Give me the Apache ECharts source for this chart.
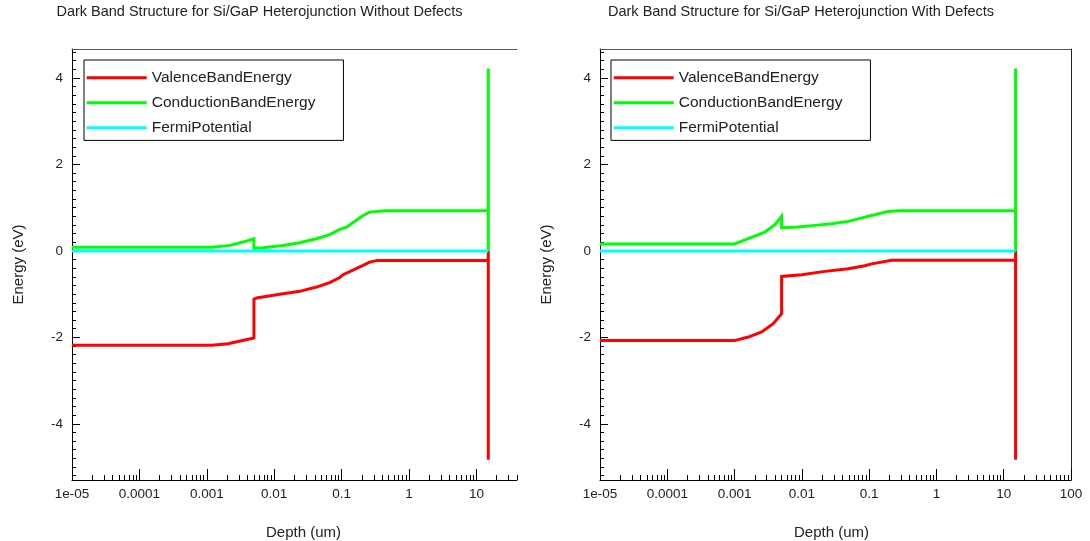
<!DOCTYPE html>
<html>
<head>
<meta charset="utf-8">
<script src="https://cdn.jsdelivr.net/npm/echarts@6/dist/echarts.min.js"></script>
<style>
  html, body { margin: 0; padding: 0; background: #ffffff; }
  #chart { width: 1090px; height: 541px; }
</style>
</head>
<body>
<div id="chart"></div>
<script>
// ---- labels ----
const seriesNames = ['ValenceBandEnergy', 'ConductionBandEnergy', 'FermiPotential'];
const titleNoDefects = 'Dark Band Structure for Si/GaP Heterojunction Without Defects';
const titleDefects = 'Dark Band Structure for Si/GaP Heterojunction With Defects';
const xAxisName = 'Depth (um)';
const yAxisName = 'Energy (eV)';

// ---- tick labels ----
const xMajorTicks = [1e-5, 1e-4, 1e-3, 0.01, 0.1, 1, 10, 100];
const xTickLabels = ['1e-05', '0.0001', '0.001', '0.01', '0.1', '1', '10', '100'];
const yMajorTicks = [-4, -2, 0, 2, 4];
const yTickLabels = ['-4', '-2', '0', '2', '4'];

// ---- Without defects: depth (um) / energy (eV) ----
const vbDepthA  = [1e-5, 0.0012, 0.00206, 0.00326, 0.005, 0.005, 0.0055, 0.0108, 0.0239, 0.0423, 0.0665, 0.094, 0.105, 0.208, 0.26, 0.34, 15, 15, 15];
const vbEnergyA = [-2.185, -2.185, -2.146, -2.077, -2.016, -1.12, -1.09, -1.013, -0.936, -0.837, -0.736, -0.615, -0.55, -0.335, -0.26, -0.22, -0.215, 0, -4.83];
const cbDepthA  = [1e-5, 0.0012, 0.0022, 0.00344, 0.005, 0.005, 0.0068, 0.0135, 0.0239, 0.0423, 0.0665, 0.094, 0.118, 0.208, 0.261, 0.44, 15, 15, 15];
const cbEnergyA = [0.085, 0.085, 0.127, 0.204, 0.28, 0.065, 0.074, 0.127, 0.19, 0.282, 0.375, 0.497, 0.55, 0.82, 0.897, 0.93, 0.93, 0, 4.22];
const efDepthA  = [1e-5, 15];
const efEnergyA = [0, 0];

// ---- With defects: depth (um) / energy (eV) ----
const vbDepthB  = [1e-5, 0.001, 0.0016, 0.00253, 0.00376, 0.005, 0.005, 0.00993, 0.022, 0.0489, 0.0865, 0.109, 0.216, 15, 15, 15];
const vbEnergyB = [-2.075, -2.075, -1.993, -1.877, -1.684, -1.453, -0.59, -0.551, -0.474, -0.412, -0.345, -0.3, -0.215, -0.215, 0, -4.83];
const cbDepthB  = [1e-5, 0.001, 0.0016, 0.00283, 0.00398, 0.005, 0.005, 0.00885, 0.0157, 0.0277, 0.0489, 0.0865, 0.109, 0.192, 0.279, 15, 15, 15];
const cbEnergyB = [0.16, 0.16, 0.282, 0.435, 0.605, 0.8, 0.536, 0.55, 0.59, 0.629, 0.682, 0.78, 0.82, 0.913, 0.93, 0.93, 0, 4.22];
const efDepthB  = [1e-5, 15];
const efEnergyB = [0, 0];

// ---- axis ranges ----
const xMin = 1e-5;
const xMaxA = 40;
const xMaxB = 100;
const yMin = -5.3;
const yMax = 4.67;

const FONT = '"Liberation Sans", Arial, Helvetica, sans-serif';
const INK = '#222222';
const colors = ['#ff0000', '#00ff00', '#00ffff'];

// minor ticks: 2..9 within each decade, and every 0.2 eV
const xMinorTicks = [];
for (let d = -5; d <= 1; d++) {
  for (let k = 2; k <= 9; k++) xMinorTicks.push(+(k * Math.pow(10, d)).toPrecision(6));
}
const yMinorTicks = [];
for (let i = -26; i <= 23; i++) yMinorTicks.push(+(i * 0.2).toFixed(1));

function zip(xs, ys) { return xs.map((x, i) => [x, ys[i]]); }

function xLabel(v) {
  for (let i = 0; i < xMajorTicks.length; i++) {
    if (Math.abs(Math.log10(v) - Math.log10(xMajorTicks[i])) < 1e-6) return xTickLabels[i];
  }
  return '';
}
function yLabel(v) {
  const i = yMajorTicks.indexOf(Math.round(v * 1000) / 1000);
  return i >= 0 ? yTickLabels[i] : '';
}

const gridBase = { top: 49, height: 431, containLabel: false, outerBoundsMode: 'none' };
const grids = [
  Object.assign({ left: 72, width: 445 }, gridBase),
  Object.assign({ left: 600, width: 471 }, gridBase)
];

const xAxes = [];
const yAxes = [];
const series = [];

function buildPanel(gi, xMax, rightBorder, nameShift, data) {
  const xBase = xAxes.length;
  const yBase = yAxes.length;
  // main bottom axis with decade ticks and labels
  xAxes.push({
    gridIndex: gi, type: 'log', logBase: 10, min: xMin, max: xMax, position: 'bottom',
    name: xAxisName, nameLocation: 'middle', nameGap: 45,
    nameTextStyle: { fontFamily: FONT, fontSize: 15, color: INK,
      padding: nameShift > 0 ? [0, 0, 0, 2 * nameShift] : [0, -2 * nameShift, 0, 0] },
    axisLine: { show: true, onZero: false, lineStyle: { color: '#000', width: 1 } },
    axisTick: { show: true, inside: true, length: 11, customValues: xMajorTicks, lineStyle: { color: '#000', width: 1 } },
    axisLabel: { show: true, customValues: xMajorTicks, formatter: xLabel, fontFamily: FONT, fontSize: 13.5, color: INK, margin: 7 },
    splitLine: { show: false }, minorTick: { show: false }
  });
  // minor decade ticks
  xAxes.push({
    gridIndex: gi, type: 'log', logBase: 10, min: xMin, max: xMax, position: 'bottom',
    axisLine: { show: false, onZero: false },
    axisTick: { show: true, inside: true, length: 5, customValues: xMinorTicks, lineStyle: { color: '#000', width: 1 } },
    axisLabel: { show: false },
    splitLine: { show: false }
  });
  // top frame line
  xAxes.push({
    gridIndex: gi, type: 'value', min: 0, max: 1, position: 'top',
    axisLine: { show: true, onZero: false, lineStyle: { color: '#555', width: 1 } },
    axisTick: { show: false }, axisLabel: { show: false }, splitLine: { show: false }
  });
  // main left axis
  yAxes.push({
    gridIndex: gi, type: 'value', min: yMin, max: yMax, position: 'left',
    name: yAxisName, nameLocation: 'middle', nameGap: 45.5, nameRotate: 90,
    nameTextStyle: { fontFamily: FONT, fontSize: 15, color: INK },
    axisLine: { show: true, onZero: false, lineStyle: { color: '#000', width: 1 } },
    axisTick: { show: true, inside: true, length: 8, customValues: yMajorTicks, lineStyle: { color: '#000', width: 1 } },
    axisLabel: { show: true, customValues: yMajorTicks, formatter: yLabel, fontFamily: FONT, fontSize: 13.5, color: INK, margin: 9 },
    splitLine: { show: false }
  });
  // minor energy ticks
  yAxes.push({
    gridIndex: gi, type: 'value', min: yMin, max: yMax, position: 'left',
    axisLine: { show: false, onZero: false },
    axisTick: { show: true, inside: true, length: 4, customValues: yMinorTicks, lineStyle: { color: '#000', width: 1 } },
    axisLabel: { show: false }, splitLine: { show: false }
  });
  if (rightBorder) {
    yAxes.push({
      gridIndex: gi, type: 'value', min: yMin, max: yMax, position: 'right',
      axisLine: { show: true, onZero: false, lineStyle: { color: '#222', width: 1 } },
      axisTick: { show: false }, axisLabel: { show: false }, splitLine: { show: false }
    });
  }
  data.forEach((pts, si) => {
    series.push({
      name: seriesNames[si], type: 'line', xAxisIndex: xBase, yAxisIndex: yBase,
      data: pts, showSymbol: false, symbol: 'none', color: colors[si],
      itemStyle: { color: colors[si] },
      lineStyle: { color: colors[si], width: 3, join: 'miter' },
      clip: true, animation: false, z: 2 + si
    });
  });
}

buildPanel(0, xMaxA, false, 9, [zip(vbDepthA, vbEnergyA), zip(cbDepthA, cbEnergyA), zip(efDepthA, efEnergyA)]);
buildPanel(1, xMaxB, true, -4, [zip(vbDepthB, vbEnergyB), zip(cbDepthB, cbEnergyB), zip(efDepthB, efEnergyB)]);

function legendAt(left) {
  return {
    data: seriesNames, orient: 'vertical', left: left, top: 60,
    icon: 'rect', itemWidth: 60, itemHeight: 3, itemGap: 7,
    padding: [8.7, 28, 3.7, 2.7],
    borderColor: '#000', borderWidth: 1, backgroundColor: '#fff',
    textStyle: { fontFamily: FONT, fontSize: 15.5, color: INK, lineHeight: 18 },
    selectedMode: false
  };
}

const chart = echarts.init(document.getElementById('chart'), null, { renderer: 'canvas' });
chart.setOption({
  backgroundColor: '#ffffff',
  animation: false,
  title: [
    { text: titleNoDefects, left: 259.5, top: 4, padding: 0, textAlign: 'center',
      textStyle: { fontFamily: FONT, fontSize: 14.5, fontWeight: 'normal', color: INK } },
    { text: titleDefects, left: 801, top: 4, padding: 0, textAlign: 'center',
      textStyle: { fontFamily: FONT, fontSize: 14.5, fontWeight: 'normal', color: INK } }
  ],
  legend: [legendAt(84), legendAt(611)],
  grid: grids,
  xAxis: xAxes,
  yAxis: yAxes,
  series: series
});
</script>
</body>
</html>
